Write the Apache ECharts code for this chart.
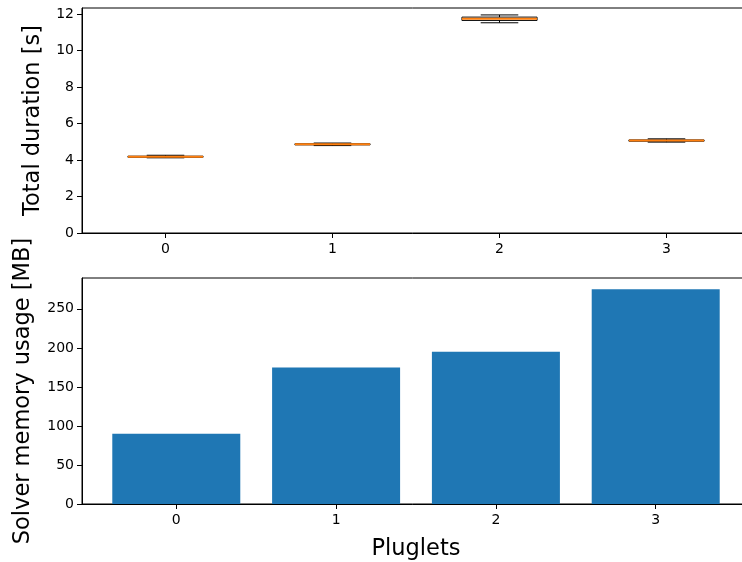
<!DOCTYPE html>
<html>
<head>
<meta charset="utf-8">
<script src="https://cdn.jsdelivr.net/npm/echarts@6/dist/echarts.min.js"></script>
<style>html,body{margin:0;padding:0;background:#fff}#c{width:742px;height:562px}</style>
</head>
<body>
<div id="c"></div>
<script>
// Categories (pluglets)
var categories = ['0', '1', '2', '3'];
// Total duration box statistics [s]: min, q1, median, q3, max
var durMin    = [4.12, 4.79, 11.52, 4.98];
var durQ1     = [4.15, 4.83, 11.65, 5.03];
var durMedian = [4.18, 4.86, 11.74, 5.07];
var durQ3     = [4.21, 4.89, 11.83, 5.10];
var durMax    = [4.26, 4.93, 11.95, 5.16];
// Solver memory usage [MB]
var memory = [90, 175, 195, 275];
// Tick values
var durTicks = [0, 2, 4, 6, 8, 10, 12];
var memTicks = [0, 50, 100, 150, 200, 250];
var catPositions = [0, 1, 2, 3];

var font = 'DejaVu Sans';
var boxData = categories.map(function (c, i) {
  return [i, durMin[i], durQ1[i], durMedian[i], durQ3[i], durMax[i]];
});
var barData = memory.map(function (v, i) { return [catPositions[i], v]; });

function renderBox(params, api) {
  var i = api.value(0);
  var band = api.size([1, 0])[0];
  var bw = band * 0.45, cw = bw / 2;
  var pMin = api.coord([i, api.value(1)]);
  var pQ1 = api.coord([i, api.value(2)]);
  var pMed = api.coord([i, api.value(3)]);
  var pQ3 = api.coord([i, api.value(4)]);
  var pMax = api.coord([i, api.value(5)]);
  var cx = pMed[0];
  var blk = {stroke: '#000', lineWidth: 1, fill: null};
  return {
    type: 'group',
    children: [
      {type: 'line', shape: {x1: cx, y1: pQ3[1], x2: cx, y2: pMax[1]}, style: blk},
      {type: 'line', shape: {x1: cx, y1: pQ1[1], x2: cx, y2: pMin[1]}, style: blk},
      {type: 'line', shape: {x1: cx - cw / 2, y1: pMax[1], x2: cx + cw / 2, y2: pMax[1]}, style: blk},
      {type: 'line', shape: {x1: cx - cw / 2, y1: pMin[1], x2: cx + cw / 2, y2: pMin[1]}, style: blk},
      {type: 'rect', shape: {x: cx - bw / 2, y: pQ3[1], width: bw, height: pQ1[1] - pQ3[1]}, style: {stroke: '#000', lineWidth: 1, fill: 'none'}},
      {type: 'line', shape: {x1: cx - bw / 2, y1: pMed[1], x2: cx + bw / 2, y2: pMed[1]}, style: {stroke: '#ff7f0e', lineWidth: 2}}
    ]
  };
}

var axisLine = {show: true, onZero: false, lineStyle: {color: '#000', width: 1}};
var axisTick = {show: true, length: 5, lineStyle: {color: '#000', width: 1}};
var labelStyle = {color: '#000', fontFamily: font, fontSize: 14};
var nameStyle = {color: '#000', fontFamily: font, fontSize: 22.5};

var chart = echarts.init(document.getElementById('c'), null, {renderer: 'canvas'});
chart.setOption({
  animation: false,
  backgroundColor: '#fff',
  grid: [
    {left: 82, width: 668, top: 8, height: 225, outerBoundsMode: 'none', containLabel: false,
     show: true, borderColor: '#000', borderWidth: 1, backgroundColor: 'transparent'},
    {left: 82, width: 668, top: 278, height: 226, outerBoundsMode: 'none', containLabel: false,
     show: true, borderColor: '#000', borderWidth: 1, backgroundColor: 'transparent'}
  ],
  xAxis: [
    {
      type: 'category', gridIndex: 0, data: categories, boundaryGap: true,
      axisLine: axisLine, axisTick: Object.assign({alignWithLabel: true}, axisTick),
      axisLabel: Object.assign({margin: 9}, labelStyle), splitLine: {show: false}
    },
    {
      type: 'value', gridIndex: 1, min: -0.59, max: 3.59,
      axisLine: axisLine,
      axisTick: Object.assign({customValues: catPositions}, axisTick),
      axisLabel: Object.assign({margin: 9, customValues: catPositions,
        formatter: function (v) { return categories[Math.round(v)]; }}, labelStyle),
      splitLine: {show: false},
      name: 'Pluglets', nameLocation: 'middle', nameGap: 34, nameTextStyle: nameStyle
    }
  ],
  yAxis: [
    {
      type: 'value', gridIndex: 0, min: 0, max: 12.33,
      axisLine: axisLine,
      axisTick: Object.assign({customValues: durTicks}, axisTick),
      axisLabel: Object.assign({margin: 8, customValues: durTicks}, labelStyle),
      splitLine: {show: false},
      name: 'Total duration [s]', nameLocation: 'middle', nameGap: 37, nameTextStyle: nameStyle
    },
    {
      type: 'value', gridIndex: 1, min: 0, max: 289.5,
      axisLine: axisLine,
      axisTick: Object.assign({customValues: memTicks}, axisTick),
      axisLabel: Object.assign({margin: 8, customValues: memTicks}, labelStyle),
      splitLine: {show: false},
      name: 'Solver memory usage [MB]', nameLocation: 'middle', nameGap: 47, nameTextStyle: nameStyle
    }
  ],
  series: [
    {
      type: 'custom', xAxisIndex: 0, yAxisIndex: 0,
      renderItem: renderBox, data: boxData,
      encode: {x: 0, y: [1, 2, 3, 4, 5]}, clip: false
    },
    {
      type: 'bar', xAxisIndex: 1, yAxisIndex: 1, data: barData,
      barWidth: 128, itemStyle: {color: '#1f77b4'}
    }
  ]
});
</script>
</body>
</html>
